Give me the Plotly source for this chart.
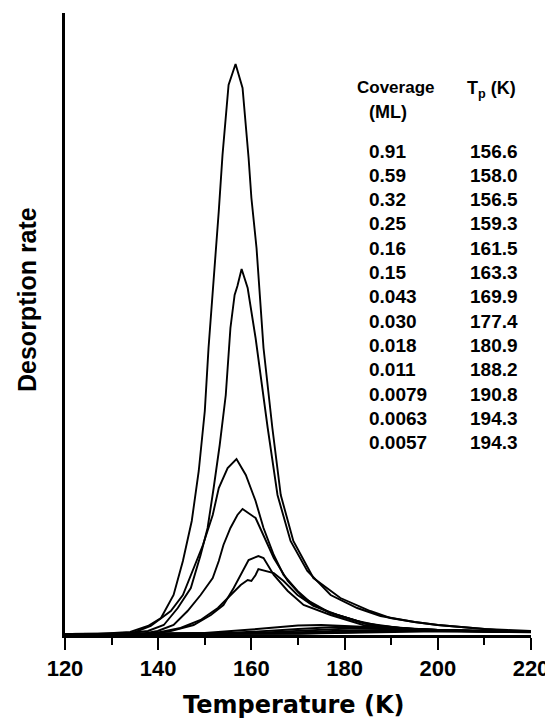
import plotly.graph_objects as go

# ---- Data (temperature in K, desorption rate in arbitrary units) ----
T_091 = [120, 127, 134, 137.8, 140.6, 143.3, 145.3, 147.2, 148.7, 150.0, 150.8, 151.9, 153.0, 153.8, 155.1, 156.6,
         158.1, 159.4, 160.0, 161.1, 162.6, 164.5, 166.3, 169.0, 173.3, 179.1, 185.5, 189.8, 195, 200, 205, 210, 215, 220]
R_091 = [0, 0, 2, 8, 16, 39, 73, 113, 163, 223, 286, 353, 423, 479, 549, 570,
         546, 476, 436, 386, 286, 206, 139, 93, 56, 36, 23, 16, 12, 9, 7, 5, 4, 3]

T_059 = [120, 132, 137.8, 141.2, 144.2, 147.0, 149.1, 150.6, 151.9, 153.2, 154.5, 155.5, 156.4, 157.0, 157.9,
         159.2, 160.9, 163.5, 165.6, 168.4, 172.0, 177.0, 182.7, 187.7, 195, 200, 205, 210, 215, 220]
R_059 = [0, 0, 3, 9, 26, 46, 79, 106, 146, 189, 239, 306, 339, 348, 365,
         346, 296, 206, 139, 93, 63, 39, 26, 18, 12, 9, 7, 5, 3, 2]

T_032 = [120, 134, 138.4, 142.7, 145.3, 147.4, 149.6, 151.7, 153.0, 154.9, 156.8, 158.8, 160.9, 162.6, 164.8,
         166.9, 169.9, 173.3, 177.0, 182.7, 187.7, 195, 200, 210, 220]
R_032 = [0, 0, 8, 23, 39, 63, 89, 119, 146, 166, 175, 159, 133, 106, 79,
         59, 43, 29, 21, 13, 8, 5, 4, 3, 2]

T_025 = [120, 136.3, 139.9, 143.3, 146.3, 149.1, 151.7, 153.0, 154.0, 155.5, 157.0, 158.1, 160.9, 162.6, 164.8,
         167.8, 171.2, 177.0, 184.0, 191.9, 200, 210, 220]
R_025 = [0, 0, 3, 9, 23, 39, 56, 73, 89, 106, 119, 125, 116, 99, 76,
         53, 36, 21, 11, 6, 4, 3, 2]

T_016 = [120, 138.4, 142.7, 147.6, 151.3, 154.0, 156.2, 157.7, 159.4, 161.5, 162.6, 164.8, 167.8, 171.2, 177.0,
         184.0, 190, 196.2, 205, 220]
R_016 = [0, 0, 3, 9, 19, 29, 46, 59, 74, 78, 76, 59, 43, 29, 19,
         9, 6, 4, 3, 2]

T_015 = [120, 138.4, 144.8, 149.1, 152.8, 155.5, 157.7, 159.2, 160.0, 160.9, 161.5, 164.8, 166.9, 169.9, 173.3,
         178.5, 185.5, 196.2, 205, 220]
R_015 = [0, 0, 6, 14, 26, 39, 49, 54, 53, 59, 65, 61, 53, 39, 28,
         19, 9, 4, 3, 2]

T_0043 = [120, 140, 150, 155, 160, 165, 170, 175, 180, 185, 190, 195, 200, 205, 210, 215, 220]
R_0043 = [0, 0, 1, 2.5, 4.5, 6.5, 8.5, 9, 8, 6.5, 5.5, 4.5, 4, 3, 2.5, 2, 2]

T_0030 = [120, 145, 150, 155, 160, 165, 170, 175, 178, 185, 190, 195, 200, 205, 210, 215, 220]
R_0030 = [0, 0, 0.5, 1, 2, 3.5, 5, 6.5, 7, 6.5, 6, 5, 4, 3.5, 3, 2.5, 2]

T_0018 = [120, 150, 155, 160, 165, 170, 175, 181, 185, 190, 195, 200, 205, 210, 215, 220]
R_0018 = [0, 0, 0.5, 1, 2, 3, 4.5, 5.5, 5.5, 5, 4.5, 4, 3.5, 3, 2.5, 2]

T_0011 = [120, 155, 160, 165, 170, 175, 180, 185, 188, 192, 196, 200, 205, 210, 215, 220]
R_0011 = [0, 0, 0.5, 1, 1.5, 2.5, 3.5, 4, 4.5, 4.2, 4, 3.5, 3.2, 2.8, 2.5, 2.2]

T_00079 = [120, 160, 165, 170, 175, 180, 185, 191, 195, 200, 205, 210, 215, 220]
R_00079 = [0, 0, 0.5, 1, 1.5, 2.5, 3, 3.8, 3.6, 3.3, 3, 2.6, 2.3, 2]

T_00063 = [120, 165, 170, 175, 180, 185, 190, 194, 200, 205, 210, 215, 220]
R_00063 = [0, 0, 0.5, 1, 1.5, 2.2, 2.8, 3.2, 3, 2.8, 2.5, 2.2, 2]

T_00057 = [120, 165, 170, 175, 180, 185, 190, 194, 200, 205, 210, 215, 220]
R_00057 = [0, 0, 0.3, 0.8, 1.2, 1.8, 2.4, 2.8, 2.6, 2.4, 2.2, 2, 1.8]

coverage_labels = ["0.91", "0.59", "0.32", "0.25", "0.16", "0.15", "0.043", "0.030",
                   "0.018", "0.011", "0.0079", "0.0063", "0.0057"]
tp_labels = ["156.6", "158.0", "156.5", "159.3", "161.5", "163.3", "169.9", "177.4",
             "180.9", "188.2", "190.8", "194.3", "194.3"]
x_ticks = [120, 140, 160, 180, 200, 220]

series = [
    (T_091, R_091), (T_059, R_059), (T_032, R_032), (T_025, R_025), (T_016, R_016), (T_015, R_015),
    (T_0043, R_0043), (T_0030, R_0030), (T_0018, R_0018), (T_0011, R_0011),
    (T_00079, R_00079), (T_00063, R_00063), (T_00057, R_00057),
]

# ---- Figure geometry (the page body adds an 8 px offset) ----
OFF = 8
W, H = 553 - OFF, 727 - OFF
L, R, TOP, B = 57, 22, 5, 92
PW, PH = W - L - R, H - TOP - B

def px_x(px):
    # page pixel -> paper fraction
    return (px - OFF - L) / PW

def px_y(py):
    return (OFF + TOP + PH - py) / PH

fig = go.Figure()
for tx, ry in series:
    fig.add_trace(go.Scatter(x=tx, y=ry, mode="lines",
                             line=dict(color="black", width=1.9),
                             showlegend=False, hoverinfo="skip"))

BOLD = "Liberation Sans, Arial, sans-serif"
annotations = []
# Table header
annotations.append(dict(text="Coverage", x=px_x(395), y=px_y(87), xref="paper", yref="paper",
                        showarrow=False, xanchor="center", yanchor="middle",
                        font=dict(family=BOLD, size=17, color="black", weight="bold")))
annotations.append(dict(text="(ML)", x=px_x(388), y=px_y(112), xref="paper", yref="paper",
                        showarrow=False, xanchor="center", yanchor="middle",
                        font=dict(family=BOLD, size=18, color="black", weight="bold")))
annotations.append(dict(text="T<sub>p</sub> (K)", x=px_x(491), y=px_y(90), xref="paper", yref="paper",
                        showarrow=False, xanchor="center", yanchor="middle",
                        font=dict(family=BOLD, size=18, color="black", weight="bold")))
# Table rows
for i, (cv, tp) in enumerate(zip(coverage_labels, tp_labels)):
    yy = px_y(151 + 24.3 * i)
    annotations.append(dict(text=cv, x=px_x(367), y=yy, xref="paper", yref="paper",
                            showarrow=False, xanchor="left", yanchor="middle",
                            font=dict(family=BOLD, size=19, color="black", weight="bold")))
    annotations.append(dict(text=tp, x=px_x(520), y=yy, xref="paper", yref="paper",
                            showarrow=False, xanchor="right", yanchor="middle",
                            font=dict(family=BOLD, size=19, color="black", weight="bold")))
# Axis titles
annotations.append(dict(text="Temperature (K)", x=px_x(294), y=px_y(705), xref="paper", yref="paper",
                        showarrow=False, xanchor="center", yanchor="middle",
                        font=dict(family="DejaVu Sans, sans-serif", size=24, color="black", weight="bold")))
annotations.append(dict(text="Desorption rate", x=px_x(27), y=px_y(300), xref="paper", yref="paper",
                        showarrow=False, xanchor="center", yanchor="middle", textangle=-90,
                        font=dict(family=BOLD, size=25, color="black", weight="bold")))

fig.update_layout(
    template="none",
    width=W, height=H,
    margin=dict(l=L, r=R, t=TOP, b=B, pad=0, autoexpand=False),
    paper_bgcolor="white", plot_bgcolor="white",
    showlegend=False,
    annotations=annotations,
    xaxis=dict(range=[120, 220], tickvals=x_ticks, ticks="outside", ticklen=12, tickwidth=2.2,
               tickcolor="black", showline=True, linecolor="black", linewidth=2.5,
               showgrid=False, zeroline=False, automargin=False,
               minor=dict(dtick=10, tick0=120, ticks="outside", ticklen=7, tickwidth=2.2, tickcolor="black",
                          showgrid=False),
               tickfont=dict(family=BOLD, size=22, color="black", weight="bold")),
    yaxis=dict(range=[-1, 621], showticklabels=False, ticks="", showline=True, automargin=False,
               linecolor="black", linewidth=2.5, showgrid=False, zeroline=False),
)

fig.write_html("out.html")
